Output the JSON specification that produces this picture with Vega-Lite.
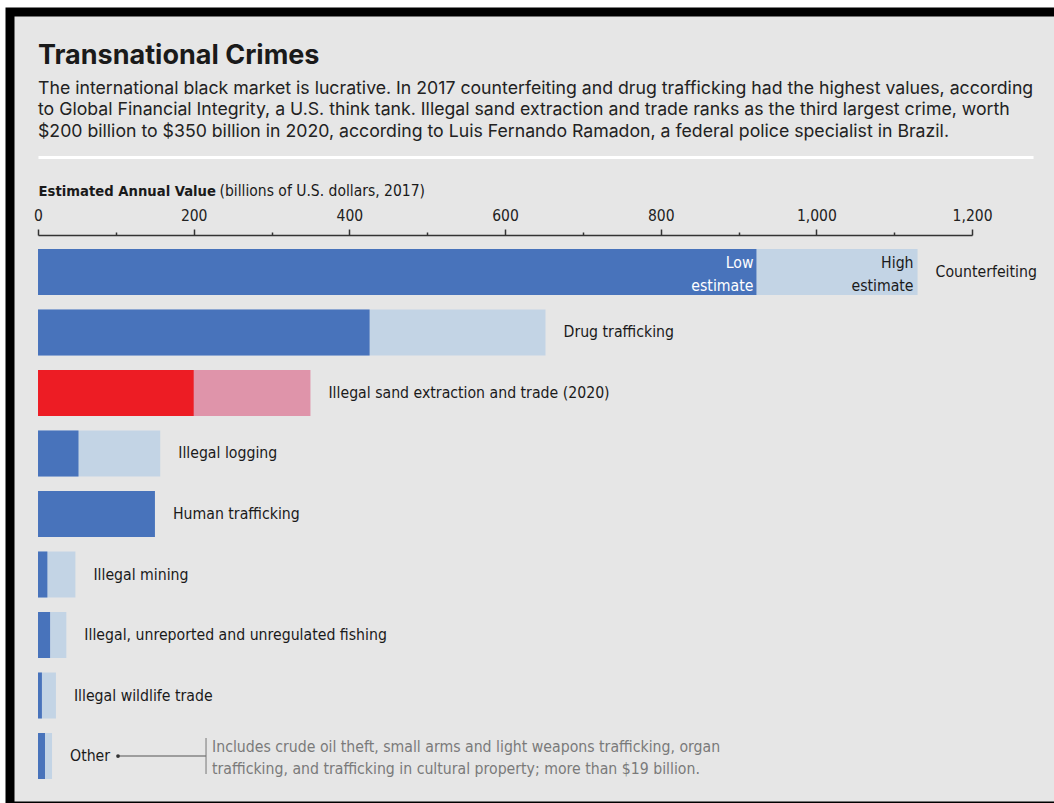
{
  "$schema": "https://vega.github.io/schema/vega-lite/v6.json",
  "autosize": "none",
  "width": 1050,
  "height": 794,
  "padding": {"left": 10, "top": 12, "right": 0, "bottom": 0},
  "background": "#ffffff",
  "config": {
    "view": {"stroke": "#000000", "strokeWidth": 9, "fill": "#e6e6e6"},
    "text": {"font": "DejaVu Sans Condensed, sans-serif"}
  },
  "title": {
    "text": "Transnational Crimes",
    "subtitle": [
      "The international black market is lucrative. In 2017 counterfeiting and drug trafficking had the highest values, according",
      "to Global Financial Integrity, a U.S. think tank. Illegal sand extraction and trade ranks as the third largest crime, worth",
      "$200 billion to $350 billion in 2020, according to Luis Fernando Ramadon, a federal police specialist in Brazil."
    ],
    "anchor": "start",
    "frame": "group",
    "offset": -129.5,
    "dx": 28,
    "font": "Inter",
    "fontSize": 27,
    "fontWeight": "bold",
    "color": "#1a1a1a",
    "subtitleFont": "Inter",
    "subtitleFontSize": 17.7,
    "subtitleColor": "#222222",
    "subtitleLineHeight": 21.5,
    "subtitlePadding": 10
  },
  "data": {
    "values": [
      {"crime": "Counterfeiting", "low": 923, "high": 1130},
      {"crime": "Drug trafficking", "low": 426, "high": 652},
      {"crime": "Illegal sand extraction and trade (2020)", "low": 200, "high": 350},
      {"crime": "Illegal logging", "low": 52, "high": 157},
      {"crime": "Human trafficking", "low": 150.2, "high": 150.2},
      {"crime": "Illegal mining", "low": 12, "high": 48},
      {"crime": "Illegal, unreported and unregulated fishing", "low": 15.5, "high": 36.4},
      {"crime": "Illegal wildlife trade", "low": 5, "high": 23},
      {"crime": "Other", "low": 9, "high": 18}
    ]
  },
  "layer": [
    {
      "mark": {"type": "bar"},
      "encoding": {
        "x": {
          "field": "high", "type": "quantitative",
          "scale": {"domain": [-36, 1313], "nice": false, "zero": false},
          "axis": {
            "orient": "top",
            "offset": -223,
            "values": [0, 100, 200, 300, 400, 500, 600, 700, 800, 900, 1000, 1100, 1200],
            "labelExpr": "datum.value % 200 === 0 ? format(datum.value, ',') : ''",
            "tickSize": {"condition": {"test": "datum.value % 200 === 0", "value": 6}, "value": 3},
            "tickColor": "#333333",
            "tickWidth": 1.5,
            "domainColor": "#333333",
            "domainWidth": 1.5,
            "domainDash": [934, 3000],
            "domainDashOffset": 3906,
            "grid": false,
            "labelFont": "DejaVu Sans Condensed, sans-serif",
            "labelFontSize": 15.5,
            "labelColor": "#222222",
            "labelPadding": 6,
            "title": "Estimated Annual Value",
            "titleFont": "DejaVu Sans Condensed, sans-serif",
            "titleFontSize": 14.7,
            "titleFontWeight": "bold",
            "titleColor": "#1a1a1a",
            "titleAnchor": null,
            "titleAlign": "left",
            "titleBaseline": "alphabetic",
            "titleX": 28,
            "titleY": -40
          }
        },
        "x2": {"datum": 0},
        "y": {
          "field": "crime", "type": "nominal", "sort": null,
          "scale": {"range": [237, 767], "paddingInner": 0.24, "paddingOuter": 0},
          "axis": null
        },
        "color": {
          "condition": {"test": "datum.crime === 'Illegal sand extraction and trade (2020)'", "value": "#df94aa"},
          "value": "#c3d4e5"
        }
      }
    },
    {
      "mark": {"type": "bar"},
      "encoding": {
        "x": {
          "field": "low", "type": "quantitative",
          "scale": {"domain": [-36, 1313], "nice": false, "zero": false},
          "axis": {
            "orient": "top",
            "offset": -145,
            "ticks": false,
            "labels": false,
            "grid": false,
            "domainColor": "#ffffff",
            "domainWidth": 3,
            "domainDash": [995, 3000],
            "domainDashOffset": 3967,
            "title": "(billions of U.S. dollars, 2017)",
            "titleFont": "DejaVu Sans Condensed, sans-serif",
            "titleFontSize": 15.5,
            "titleFontWeight": "normal",
            "titleColor": "#1a1a1a",
            "titleAnchor": null,
            "titleAlign": "left",
            "titleBaseline": "alphabetic",
            "titleX": 209,
            "titleY": 38
          }
        },
        "x2": {"datum": 0},
        "y": {"field": "crime", "type": "nominal", "sort": null, "axis": null},
        "color": {
          "condition": {"test": "datum.crime === 'Illegal sand extraction and trade (2020)'", "value": "#ed1c24"},
          "value": "#4873bb"
        }
      }
    },
    {
      "mark": {"type": "text", "align": "left", "baseline": "middle", "dx": 18, "fontSize": 15.7, "color": "#1a1a1a"},
      "encoding": {
        "x": {"field": "high", "type": "quantitative", "scale": {"domain": [-36, 1313], "nice": false, "zero": false}, "axis": null},
        "y": {"field": "crime", "type": "nominal", "sort": null, "axis": null},
        "text": {"field": "crime"}
      }
    },
    {
      "transform": [{"filter": "datum.crime === 'Counterfeiting'"}],
      "mark": {"type": "text", "align": "right", "baseline": "middle", "dx": -3, "dy": -9, "fontSize": 15.7, "lineHeight": 23, "color": "#ffffff"},
      "encoding": {
        "x": {"field": "low", "type": "quantitative", "scale": {"domain": [-36, 1313], "nice": false, "zero": false}, "axis": null},
        "y": {"field": "crime", "type": "nominal", "sort": null, "axis": null},
        "text": {"value": ["Low", "estimate"]}
      }
    },
    {
      "transform": [{"filter": "datum.crime === 'Counterfeiting'"}],
      "mark": {"type": "text", "align": "right", "baseline": "middle", "dx": -4, "dy": -9, "fontSize": 15.7, "lineHeight": 23, "color": "#1a1a1a"},
      "encoding": {
        "x": {"field": "high", "type": "quantitative", "scale": {"domain": [-36, 1313], "nice": false, "zero": false}, "axis": null},
        "y": {"field": "crime", "type": "nominal", "sort": null, "axis": null},
        "text": {"value": ["High", "estimate"]}
      }
    },
    {
      "transform": [{"filter": "datum.crime === 'Other'"}],
      "mark": {"type": "rule", "xOffset": 66, "x2Offset": 154, "color": "#555555", "strokeWidth": 1},
      "encoding": {
        "x": {"field": "high", "type": "quantitative", "scale": {"domain": [-36, 1313], "nice": false, "zero": false}, "axis": null},
        "x2": {"field": "high"},
        "y": {"field": "crime", "type": "nominal", "sort": null, "axis": null}
      }
    },
    {
      "transform": [{"filter": "datum.crime === 'Other'"}],
      "mark": {"type": "rule", "xOffset": 154, "yOffset": -18, "y2Offset": 18, "color": "#777777", "strokeWidth": 1},
      "encoding": {
        "x": {"field": "high", "type": "quantitative", "scale": {"domain": [-36, 1313], "nice": false, "zero": false}, "axis": null},
        "y": {"field": "crime", "type": "nominal", "sort": null, "axis": null},
        "y2": {"field": "crime"}
      }
    },
    {
      "transform": [{"filter": "datum.crime === 'Other'"}],
      "mark": {"type": "point", "filled": true, "xOffset": 66, "size": 14, "color": "#333333", "opacity": 1},
      "encoding": {
        "x": {"field": "high", "type": "quantitative", "scale": {"domain": [-36, 1313], "nice": false, "zero": false}, "axis": null},
        "y": {"field": "crime", "type": "nominal", "sort": null, "axis": null}
      }
    },
    {
      "transform": [{"filter": "datum.crime === 'Other'"}],
      "mark": {"type": "text", "align": "left", "baseline": "middle", "dx": 160, "dy": -9, "fontSize": 15.7, "lineHeight": 22, "color": "#7a7a7a"},
      "encoding": {
        "x": {"field": "high", "type": "quantitative", "scale": {"domain": [-36, 1313], "nice": false, "zero": false}, "axis": null},
        "y": {"field": "crime", "type": "nominal", "sort": null, "axis": null},
        "text": {"value": ["Includes crude oil theft, small arms and light weapons trafficking, organ", "trafficking, and trafficking in cultural property; more than $19 billion."]}
      }
    }
  ],
  "resolve": {"axis": {"x": "independent"}}
}
